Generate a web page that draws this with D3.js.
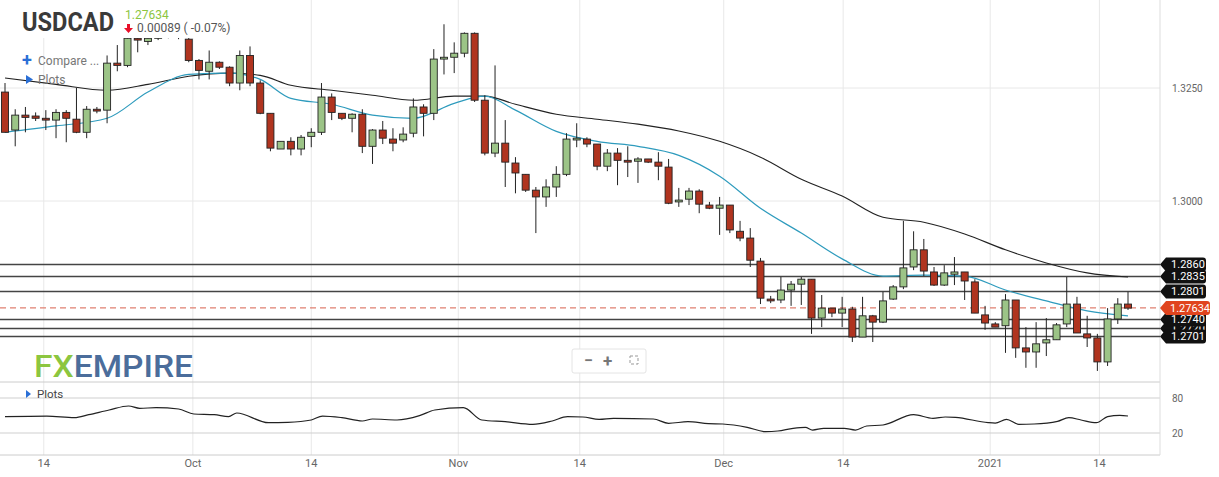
<!DOCTYPE html>
<html><head><meta charset="utf-8">
<script src="https://cdn.jsdelivr.net/npm/d3@7"></script>
<style>body{margin:0;background:#fff;}svg{display:block;font-family:Roboto,"Noto Sans",sans-serif;}</style>
</head><body><svg id="c" width="1219" height="477"></svg>
<script>
// OHLC per trading candle [open, high, low, close]
const candles = [
[1.3241,1.3261,1.3152,1.3152],[1.3157,1.3203,1.3121,1.3190],[1.3190,1.3208,1.3152,1.3185],[1.3188,1.3196,1.3177,1.3183],
[1.3183,1.3201,1.3157,1.3179],[1.3179,1.3203,1.3139,1.3196],[1.3196,1.3201,1.3130,1.3183],[1.3181,1.3250,1.3150,1.3152],
[1.3152,1.3210,1.3139,1.3203],[1.3203,1.3208,1.3194,1.3199],[1.3201,1.3322,1.3172,1.3305],[1.3305,1.3345,1.3287,1.3300],
[1.3300,1.3417,1.3296,1.3360],[1.3360,1.3404,1.3329,1.3356],[1.3353,1.3367,1.3345,1.3360],[1.3360,1.3389,1.3356,1.3378],
[1.3382,1.3389,1.3360,1.3371],[1.3371,1.3389,1.3358,1.3378],[1.3358,1.3367,1.3307,1.3311],[1.3311,1.3314,1.3269,1.3289],
[1.3287,1.3333,1.3269,1.3307],[1.3307,1.3309,1.3292,1.3296],[1.3296,1.3298,1.3254,1.3261],[1.3261,1.3333,1.3245,1.3322],
[1.3322,1.3342,1.3254,1.3261],[1.3261,1.3267,1.3192,1.3194],[1.3194,1.3194,1.3110,1.3117],[1.3115,1.3132,1.3115,1.3132],
[1.3132,1.3141,1.3101,1.3115],[1.3115,1.3146,1.3101,1.3141],[1.3143,1.3161,1.3119,1.3152],[1.3152,1.3261,1.3146,1.3230],
[1.3230,1.3238,1.3179,1.3196],[1.3194,1.3194,1.3179,1.3183],[1.3183,1.3194,1.3152,1.3192],[1.3192,1.3203,1.3106,1.3121],
[1.3121,1.3159,1.3082,1.3157],[1.3157,1.3177,1.3126,1.3139],[1.3137,1.3161,1.3110,1.3128],[1.3135,1.3163,1.3130,1.3148],
[1.3150,1.3227,1.3141,1.3208],[1.3208,1.3214,1.3143,1.3194],[1.3194,1.3336,1.3179,1.3314],[1.3314,1.3391,1.3280,1.3318],
[1.3318,1.3351,1.3283,1.3327],[1.3327,1.3373,1.3318,1.3371],[1.3371,1.3373,1.3219,1.3223],[1.3223,1.3234,1.3101,1.3106],
[1.3106,1.3300,1.3097,1.3128],[1.3128,1.3179,1.3031,1.3086],[1.3084,1.3097,1.3017,1.3062],[1.3059,1.3059,1.3020,1.3024],
[1.3024,1.3031,1.2929,1.3009],[1.3009,1.3048,1.2987,1.3031],[1.3031,1.3077,1.3009,1.3059],[1.3059,1.3150,1.3055,1.3137],
[1.3135,1.3172,1.3119,1.3139],[1.3137,1.3141,1.3119,1.3126],[1.3126,1.3126,1.3068,1.3077],[1.3077,1.3115,1.3066,1.3106],
[1.3106,1.3117,1.3035,1.3090],[1.3090,1.3121,1.3053,1.3086],[1.3088,1.3097,1.3040,1.3093],[1.3093,1.3093,1.3084,1.3086],
[1.3086,1.3108,1.3046,1.3077],[1.3075,1.3093,1.2993,1.2995],[1.2998,1.3029,1.2987,1.3002],[1.3004,1.3029,1.2991,1.3022],
[1.3022,1.3026,1.2973,1.2993],[1.2991,1.2998,1.2982,1.2984],[1.2984,1.3009,1.2925,1.2991],[1.2991,1.2991,1.2929,1.2936],
[1.2933,1.2956,1.2911,1.2918],[1.2918,1.2940,1.2854,1.2869],[1.2867,1.2874,1.2772,1.2785],[1.2783,1.2790,1.2774,1.2779],
[1.2781,1.2832,1.2774,1.2803],[1.2803,1.2823,1.2768,1.2816],[1.2816,1.2832,1.2770,1.2827],[1.2827,1.2827,1.2706,1.2741],
[1.2741,1.2792,1.2721,1.2763],[1.2763,1.2763,1.2743,1.2752],[1.2752,1.2788,1.2721,1.2761],[1.2761,1.2766,1.2688,1.2699],
[1.2699,1.2788,1.2699,1.2746],[1.2746,1.2748,1.2688,1.2732],[1.2732,1.2799,1.2730,1.2779],[1.2783,1.2814,1.2781,1.2810],
[1.2810,1.2956,1.2805,1.2852],[1.2854,1.2933,1.2847,1.2892],[1.2892,1.2916,1.2834,1.2845],[1.2843,1.2854,1.2812,1.2814],
[1.2814,1.2858,1.2812,1.2841],[1.2838,1.2876,1.2814,1.2843],[1.2843,1.2843,1.2781,1.2823],[1.2821,1.2827,1.2752,1.2752],
[1.2748,1.2768,1.2715,1.2730],[1.2728,1.2732,1.2721,1.2721],[1.2724,1.2794,1.2664,1.2781],[1.2781,1.2781,1.2653,1.2675],
[1.2675,1.2721,1.2631,1.2666],[1.2666,1.2732,1.2631,1.2684],[1.2686,1.2741,1.2657,1.2693],[1.2693,1.2730,1.2693,1.2726],
[1.2728,1.2832,1.2721,1.2772],[1.2772,1.2788,1.2708,1.2708],[1.2706,1.2746,1.2677,1.2697],[1.2697,1.2706,1.2624,1.2644],
[1.2644,1.2763,1.2635,1.2739],[1.2739,1.2785,1.2728,1.2772],[1.2772,1.2799,1.2759,1.2763]
];
const maIdx = [0,5,10,14,18,22,25,28,32,36,40,44,47,50,54,58,62,66,70,74,78,82,86,90,94,98,102,106,110];
const maFast = [1.3152,1.3166,1.3183,1.3241,1.3280,1.3283,1.3269,1.3227,1.3214,1.3190,1.3183,1.3216,1.3232,1.3201,1.3154,1.3132,1.3121,1.3101,1.3055,1.2984,1.2929,1.2872,1.2834,1.2836,1.2834,1.2803,1.2779,1.2757,1.2746];
const maSlow = [1.3272,1.3258,1.3245,1.3258,1.3276,1.3283,1.3278,1.3256,1.3245,1.3234,1.3223,1.3232,1.3232,1.3214,1.3192,1.3181,1.3170,1.3155,1.3132,1.3097,1.3048,1.3011,1.2964,1.2953,1.2927,1.2892,1.2863,1.2841,1.2832];
const oscIdx = [0,4.1,6.8,8.2,10.2,12.1,13.2,14.8,17.0,18.5,20.5,21.9,22.7,25.8,27.7,30.0,31.1,33.0,35.0,36.0,38.4,40.6,42.1,44.9,46.7,49.0,51.7,53.6,55.1,56.6,58.2,59.6,63.5,65.0,66.9,68.9,70.3,72.7,74.5,75.7,77.2,78.4,79.1,80.2,82.2,83.3,84.4,86.0,89.0,90.9,92.1,93.1,96.3,97.0,98.1,99.3,100.8,103.1,104.2,105.4,106.9,108.0,109.2,110.0];
const oscVal = [48.0,49.1,46.3,51.4,59.4,66.3,62.3,63.4,61.1,52.6,51.4,48.0,54.3,37.7,38.3,42.3,49.1,46.3,40.6,44.0,42.3,49.7,59.4,63.4,42.3,39.4,34.9,40.6,48.0,47.4,43.4,45.1,44.0,36.6,39.4,36.0,35.4,29.7,22.3,23.4,28.0,29.7,25.1,28.0,28.0,25.1,32.0,33.7,51.4,45.1,47.4,46.9,37.7,37.1,43.4,34.9,35.4,40.0,46.3,42.3,37.7,48.0,50.3,49.1];
const levels = [1.2860,1.2835,1.2801,1.2740,1.2720,1.2701];
const levelLabels = ["1.2860","1.2835","1.2801","1.2740","1.2720","1.2701"];
const lastPrice = 1.27634;
const lastLabel = "1.27634";
const priceTicks = [1.3000,1.3250];
const priceTickLabels = ["1.3000","1.3250"];
const oscTicks = [20,80];
const tickIdx = [3.8,18.4,30.0,44.4,56.3,70.4,82.1,96.5,107.2];
const tickLabels = ["14","Oct","14","Nov","14","Dec","14","2021","14"];

const svg = d3.select("#c");
const x = d3.scaleLinear().domain([0,110]).range([5,1128]);
const y = d3.scaleLinear().domain([1.30,1.325]).range([201,88]);
const yo = d3.scaleLinear().domain([20,80]).range([433,398]);
const R = 1160;

const g = svg.append("g");
g.selectAll(".vg").data(tickIdx).join("line").attr("x1",d=>x(d)).attr("x2",d=>x(d)).attr("y1",0).attr("y2",455).attr("stroke","#e8e8e8");
g.selectAll(".hg").data(priceTicks).join("line").attr("x1",0).attr("x2",R).attr("y1",d=>y(d)).attr("y2",d=>y(d)).attr("stroke","#e8e8e8");
g.selectAll(".og").data(oscTicks).join("line").attr("x1",0).attr("x2",R).attr("y1",d=>yo(d)).attr("y2",d=>yo(d)).attr("stroke","#cfcfcf");
svg.append("line").attr("x1",0).attr("x2",R).attr("y1",382).attr("y2",382).attr("stroke","#ccc");
svg.append("line").attr("x1",0).attr("x2",R).attr("y1",455).attr("y2",455).attr("stroke","#ccc");
svg.append("line").attr("x1",R).attr("x2",R).attr("y1",0).attr("y2",455).attr("stroke","#ddd");

svg.append("clipPath").attr("id","cp").append("rect").attr("x",0).attr("y",0).attr("width",R).attr("height",381);
const main = svg.append("g").attr("clip-path","url(#cp)");

main.selectAll(".lv").data(levels).join("line").attr("x1",0).attr("x2",R)
  .attr("y1",d=>Math.round(y(d))+0.5).attr("y2",d=>Math.round(y(d))+0.5).attr("stroke","#444").attr("stroke-width",1.3);
main.append("line").attr("x1",0).attr("x2",R).attr("y1",y(lastPrice)).attr("y2",y(lastPrice))
  .attr("stroke","#e08070").attr("stroke-dasharray","6,4").attr("stroke-width",1.2);

const line = d3.line().curve(d3.curveMonotoneX);
main.append("path").attr("d",line(maIdx.map((d,i)=>[x(d),y(maSlow[i])]))).attr("fill","none").attr("stroke","#222").attr("stroke-width",1.1);
main.append("path").attr("d",line(maIdx.map((d,i)=>[x(d),y(maFast[i])]))).attr("fill","none").attr("stroke","#2e9bbd").attr("stroke-width",1.2);

const cg = main.selectAll(".cd").data(candles).join("g");
cg.append("line").attr("x1",(d,i)=>x(i)).attr("x2",(d,i)=>x(i)).attr("y1",d=>y(d[1])).attr("y2",d=>y(d[2])).attr("stroke","#222");
cg.append("rect").attr("x",(d,i)=>x(i)-3.5).attr("width",7)
  .attr("y",d=>y(Math.max(d[0],d[3]))).attr("height",d=>Math.max(1.5,Math.abs(y(d[0])-y(d[3]))))
  .attr("fill",d=>d[3]>=d[0]?"#9cc487":"#b0341f").attr("stroke","#222").attr("stroke-width",0.9);

svg.append("path").attr("d",line(oscIdx.map((d,i)=>[x(d),yo(oscVal[i])]))).attr("fill","none").attr("stroke","#222").attr("stroke-width",1.2);

svg.selectAll(".pt").data(priceTicks).join("text").attr("x",1172).attr("y",d=>y(d)+4).text((d,i)=>priceTickLabels[i]).attr("font-size",10).attr("fill","#666");
svg.selectAll(".ot").data(oscTicks).join("text").attr("x",1172).attr("y",d=>yo(d)+4).text(d=>d).attr("font-size",10).attr("fill","#666");

// level tags: 1.2720 drawn first so neighbouring tags cover it, as in the reference
const tag = (yy,w) => `M${R},${yy} L${R+6},${yy-7} H${R+w-3} Q${R+w},${yy-7} ${R+w},${yy-4} V${yy+4} Q${R+w},${yy+7} ${R+w-3},${yy+7} H${R+6} Z`;
const order = [4,5,3,2,1,0];
const tg = svg.selectAll(".tg").data(order).join("g");
tg.append("path").attr("d",i=>tag(Math.round(y(levels[i]))+0.5,46)).attr("fill","#111");
tg.append("text").attr("x",R+28).attr("y",i=>y(levels[i])+4).attr("text-anchor","middle").text(i=>levelLabels[i]).attr("font-size",11).attr("fill","#fff");
svg.append("path").attr("d",tag(y(lastPrice),50)).attr("fill","#e0441e");
svg.append("text").attr("x",R+30).attr("y",y(lastPrice)+4).attr("text-anchor","middle").text(lastLabel).attr("font-size",11).attr("fill","#fff");

svg.selectAll(".xt").data(tickIdx).join("text").attr("x",d=>x(d)).attr("y",467).attr("text-anchor","middle").text((d,i)=>tickLabels[i]).attr("font-size",11).attr("fill","#666");

svg.append("rect").attr("x",0).attr("y",0).attr("width",238).attr("height",38).attr("fill","#fff");
svg.append("text").attr("x",22).attr("y",31).text("USDCAD").attr("font-size",26).attr("font-weight",700).attr("fill","#3a3a3a")
  .attr("textLength",92).attr("lengthAdjust","spacingAndGlyphs");
svg.append("text").attr("x",125).attr("y",19).text("1.27634").attr("font-size",12).attr("fill","#8cc63f");
svg.append("path").attr("d","M127,24 h3 v4 h3 l-4.5,5 l-4.5,-5 h3z").attr("fill","#e8102a");
svg.append("text").attr("x",137).attr("y",32).text("0.00089 ( -0.07%)").attr("font-size",12).attr("fill","#555");
svg.append("text").attr("x",22).attr("y",66).text("+").attr("font-size",18).attr("font-weight",700).attr("fill","#2a6fd6");
svg.append("text").attr("x",38).attr("y",65).text("Compare ...").attr("font-size",12).attr("fill","#777");
svg.append("path").attr("d","M26,75 L33,79.5 L26,84 Z").attr("fill","#2a6fd6");
svg.append("text").attr("x",38).attr("y",84).text("Plots").attr("font-size",12).attr("fill","#777");
svg.append("path").attr("d","M26,390 L31,394 L26,398 Z").attr("fill","#2a6fd6");
svg.append("text").attr("x",37).attr("y",398).text("Plots").attr("font-size",11.5).attr("fill","#444");

const logo = svg.append("text").attr("x",34).attr("y",377).attr("font-size",32).attr("font-weight",500)
  .attr("textLength",159).attr("lengthAdjust","spacingAndGlyphs");
logo.append("tspan").text("FX").attr("fill","#8cc63f");
logo.append("tspan").text("EMPIRE").attr("fill","#4b6d9b");

const zc = svg.append("g");
zc.append("rect").attr("x",572).attr("y",349).attr("width",74).attr("height",24).attr("rx",2).attr("fill","#fff").attr("stroke","#e4e4e4");
zc.append("text").attr("x",584).attr("y",366).text("−").attr("font-size",16).attr("font-weight",700).attr("fill","#777");
zc.append("text").attr("x",603).attr("y",367).text("+").attr("font-size",17).attr("font-weight",700).attr("fill","#777");
zc.append("rect").attr("x",630).attr("y",356).attr("width",8).attr("height",8).attr("fill","none").attr("stroke","#999").attr("stroke-dasharray","3,2");
</script></body></html>
